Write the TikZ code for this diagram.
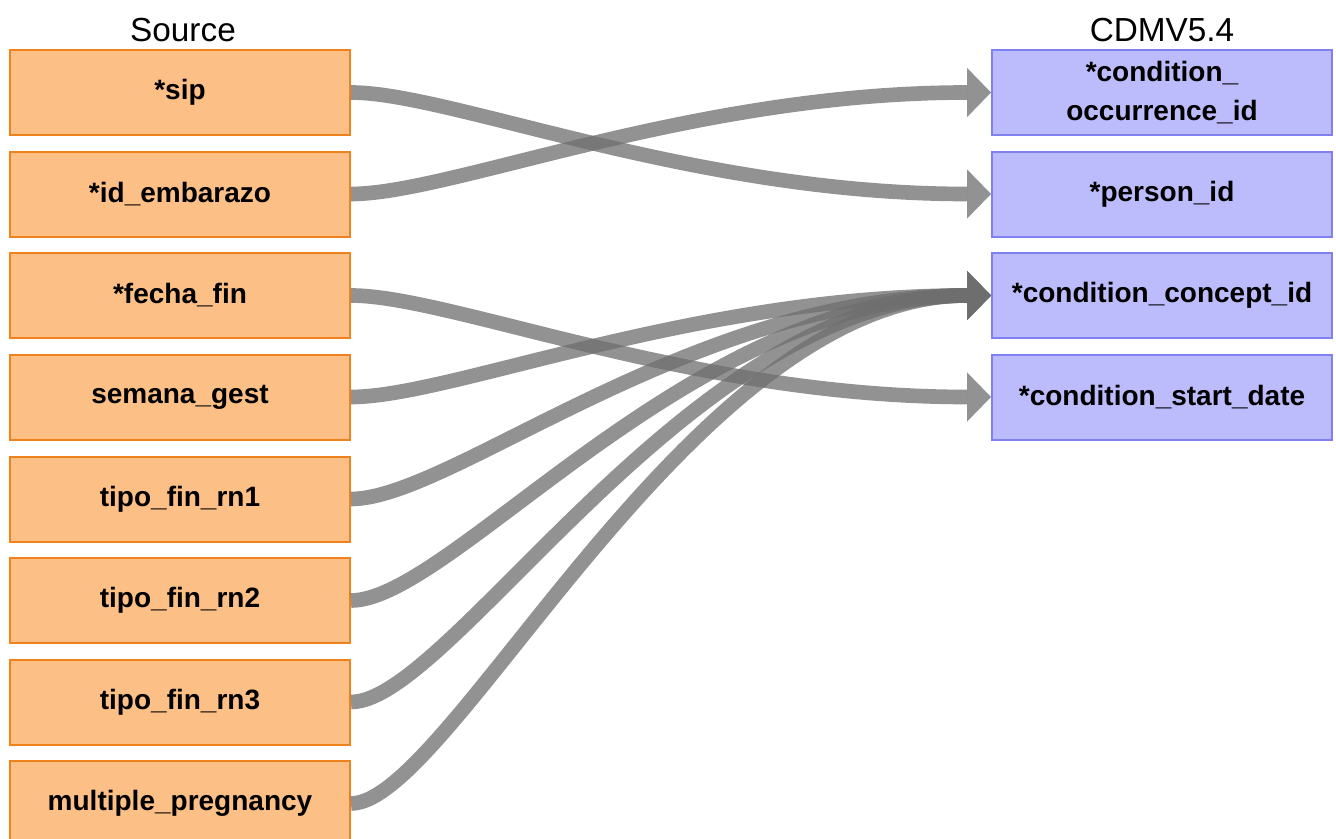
\documentclass[tikz,border=0pt]{standalone}
\usepackage{fontspec}
\setmainfont{Liberation Sans}
\usetikzlibrary{arrows.meta}
\definecolor{srcfill}{RGB}{252,191,134}
\definecolor{srcline}{RGB}{240,130,30}
\definecolor{cdmfill}{RGB}{188,188,252}
\definecolor{cdmline}{RGB}{128,128,240}
\definecolor{mapgray}{RGB}{110,110,110}

\begin{document}
\begin{tikzpicture}[x=0.75pt,y=0.75pt,yscale=-1,xscale=1,
  srcbox/.style={draw=srcline,fill=srcfill,line width=1.5pt,minimum width=255pt,minimum height=63.75pt,inner sep=0.75pt,align=center,font=\fontsize{21}{29}\selectfont\bfseries},
  cdmbox/.style={srcbox,draw=cdmline,fill=cdmfill},
  title/.style={inner sep=0.75pt,font=\fontsize{25}{30}\selectfont},
  map/.style={draw=mapgray,opacity=0.75,line width=11pt,-{Triangle[length=18pt,width=37pt,line width=0pt]}}]
\useasboundingbox (0,0) rectangle (1336,839);

% Text Node
\node [title] (srctitle) at (183,30) {Source};
% Text Node
\node [title] (cdmtitle) at (1162,30) {CDMV5.4};

% Source fields
\node [srcbox] (sip) at (180,92.5) {*sip};
\node [srcbox] (embarazo) at (180,194) {*id\_embarazo};
\node [srcbox] (fechafin) at (180,295.5) {*fecha\_fin};
\node [srcbox] (semana) at (180,397) {semana\_gest};
\node [srcbox] (rnone) at (180,499) {tipo\_fin\_rn1};
\node [srcbox] (rntwo) at (180,600.5) {tipo\_fin\_rn2};
\node [srcbox] (rnthree) at (180,702) {tipo\_fin\_rn3};
\node [srcbox] (multiple) at (180,803.5) {multiple\_pregnancy};

% CDM fields
\node [cdmbox] (occid) at (1162,92.5) {*condition\_\\occurrence\_id};
\node [cdmbox] (personid) at (1162,194) {*person\_id};
\node [cdmbox] (conceptid) at (1162,295.5) {*condition\_concept\_id};
\node [cdmbox] (startdate) at (1162,397) {*condition\_start\_date};

% Connection
\draw [map] (sip.east) .. controls +(100,0) and +(-300,0) .. (personid.west);
% Connection
\draw [map] (embarazo.east) .. controls +(100,0) and +(-300,0) .. (occid.west);
% Connection
\draw [map] (fechafin.east) .. controls +(100,0) and +(-300,0) .. (startdate.west);
% Connection
\foreach \src in {semana,rnone,rntwo,rnthree,multiple}
  \draw [map] (\src.east) .. controls +(100,0) and +(-300,0) .. (conceptid.west);

\end{tikzpicture}
\end{document}
